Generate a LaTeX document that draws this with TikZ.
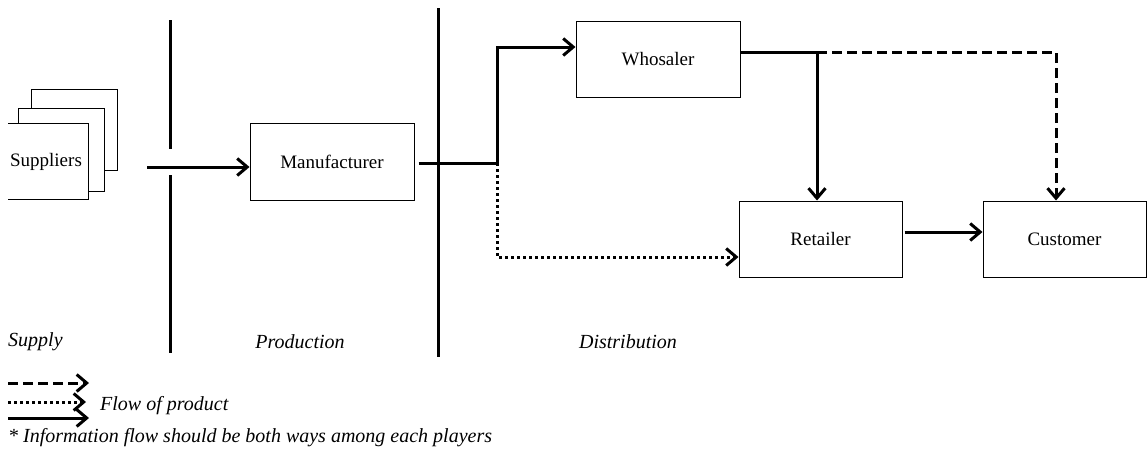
\documentclass[tikz,border=0pt]{standalone}
\usepackage{fontspec}
\setmainfont{Liberation Serif}
\usetikzlibrary{arrows.meta}
\tikzset{
  box/.style={draw, line width=1pt, inner sep=0pt, font=\fontsize{19}{22}\selectfont},
  thin/.style={draw, line width=1pt},
  sep/.style={line width=3pt},
  flow/.style={line width=3pt, -{Straight Barb[length=10pt,width=17pt,line width=3pt]}},
  dashflow/.style={flow, dash pattern=on 10pt off 5pt},
  dotflow/.style={flow, dash pattern=on 3pt off 3pt},
  lbl/.style={font=\fontsize{20}{23}\selectfont\itshape, inner sep=0pt},
}
\begin{document}
\begin{tikzpicture}[x=1pt,y=-1pt]
\useasboundingbox (0,0) rectangle (1147,455);
% suppliers stack
\draw[thin] (31,108)--(31,89)--(117,89)--(117,170)--(104,170);
\draw[thin] (18,123)--(18,108)--(104,108)--(104,191)--(88,191);
\draw[thin] (8,123)--(88,123)--(88,199)--(8,199);
\node[box, draw=none] (sup) at (46,162) {Suppliers};
% separators
\draw[sep] (170,20)--(170,149);
\draw[sep] (170,175)--(170,353);
\draw[sep] (438,8)--(438,357);
% boxes
\node[box, minimum width=164pt, minimum height=77pt] (manu) at (332,161.5) {Manufacturer};
\node[box, minimum width=164pt, minimum height=76pt] (whos) at (658,59) {Whosaler};
\node[box, minimum width=163pt, minimum height=76pt] (ret) at (820.5,239) {Retailer};
\node[box, minimum width=163pt, minimum height=76pt] (cust) at (1064.5,239) {Customer};
% connectors
\coordinate (s1) at (147,167);
\draw[flow] (s1) -- (manu.west|-s1);
\coordinate (j) at (497,163);
\draw[line width=3pt] ([xshift=4pt]manu.east|-j) -- (j);
\draw[flow] (j) |- ([yshift=12pt]whos.west);
\draw[dotflow] (j) |- ([yshift=-18pt]ret.west);
\coordinate (k) at (817,52);
\coordinate (m) at (1056,52);
\draw[line width=3pt] ([yshift=7pt]whos.east) -- (k);
\draw[flow] (k) -- (k|-ret.north);
\draw[dashflow] (k) -- (m) -- (m|-cust.north);
\draw[flow] ([xshift=2pt,yshift=7pt]ret.east) -- ([yshift=7pt]cust.west);
% stage labels
\node[lbl, anchor=west] (lsupply) at (8,342) {Supply};
\node[lbl] (lprod) at (300,342) {Production};
\node[lbl] (ldist) at (628,342) {Distribution};
% legend
\coordinate (a1) at (8,383); \coordinate (a2) at (89,383);
\coordinate (b1) at (8,402); \coordinate (b2) at (86,402);
\coordinate (c1) at (8,418); \coordinate (c2) at (89,418);
\draw[dashflow] (a1) -- (a2);
\draw[dotflow] (b1) -- (b2);
\draw[flow] (c1) -- (c2);
\node[lbl, anchor=west] (lflow) at (100,406) {Flow of product};
\node[lbl, anchor=west] (lnote) at (8,438) {* Information flow should be both ways among each players};
\end{tikzpicture}
\end{document}
